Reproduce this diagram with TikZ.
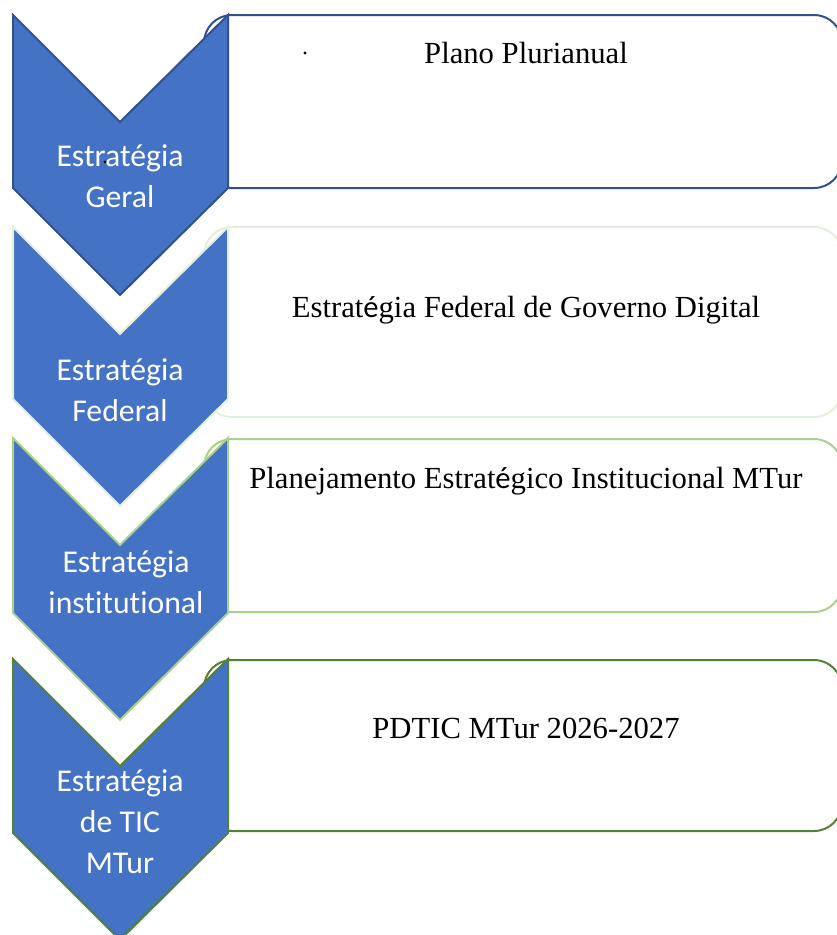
\documentclass[tikz,border=0pt]{standalone}
\usepackage{fontspec}
\setmainfont{Liberation Serif}
\newfontfamily\chevfont[Ligatures=NoCommon]{Carlito}

\definecolor{chevblue}{HTML}{4472C4}
\definecolor{geralblue}{HTML}{2F528F}
\definecolor{federalgreen}{HTML}{E2F0D9}
\definecolor{instgreen}{HTML}{A9D18E}
\definecolor{ticgreen}{HTML}{548235}

\tikzstyle{stagebox} = [line width=1.5pt, fill=white, rounded corners=21pt]
\tikzstyle{chevblock} = [line width=1.5pt, fill=chevblue, line join=miter]
\tikzstyle{chevtext} = [text=white, align=center, inner sep=0pt, font=\chevfont\fontsize{23.8}{30.75}\selectfont]
\tikzstyle{boxtext} = [anchor=base, inner sep=0pt, font=\fontsize{23}{28}\selectfont]
\tikzstyle{straydot} = [circle, fill=black, inner sep=0pt, minimum size=2.5pt]

\begin{document}
\begin{tikzpicture}[x=0.75pt, y=-0.75pt]
\clip (0,0) rectangle (837,935);

%Boxes
\draw [stagebox, draw=geralblue] (204,15) rectangle (842,188);
\draw [stagebox, draw=federalgreen] (204,227) rectangle (842,417);
\draw [stagebox, draw=instgreen] (204,439) rectangle (842,612);
\draw [stagebox, draw=ticgreen] (204,660) rectangle (842,831);

%Chevrons
\draw [chevblock, draw=geralblue] (13,15) -- ++(107,107) -- ++(108,-107) -- ++(0,173) -- ++(-108,107) -- ++(-107,-107) -- cycle;
\draw [chevblock, draw=federalgreen] (13,227) -- ++(107,107) -- ++(108,-107) -- ++(0,172) -- ++(-108,107) -- ++(-107,-107) -- cycle;
\draw [chevblock, draw=instgreen] (13,438) -- ++(107,107) -- ++(108,-107) -- ++(0,175) -- ++(-108,107) -- ++(-107,-107) -- cycle;
\draw [chevblock, draw=ticgreen] (13,659) -- ++(107,107) -- ++(108,-107) -- ++(0,174) -- ++(-108,107) -- ++(-107,-107) -- cycle;

%Chevron labels
\node (geraltext) [chevtext] at (120,176) {Estratégia\\Geral};
\node (federaltext) [chevtext] at (120,390) {Estratégia\\Federal};
\node (insttext) [chevtext] at (126,582) {Estratégia\\institutional};
\node (tictext) [chevtext] at (120,822) {Estratégia\\de TIC\\MTur};

%Box labels
\node (ppatext) [boxtext] at (526,63) {Plano Plurianual};
\node (egdtext) [boxtext] at (526,317) {Estrat{\chevfont é}gia Federal de Governo Digital};
\node (petext) [boxtext] at (526,488) {Planejamento Estrat{\chevfont é}gico Institucional MTur};
\node (pdtictext) [boxtext] at (526,738) {PDTIC MTur 2026-2027};

%Stray marks
\node (dotppa) [straydot] at (305,53) {};
\node (dotgeral) [straydot] at (105,162) {};
\end{tikzpicture}
\end{document}
